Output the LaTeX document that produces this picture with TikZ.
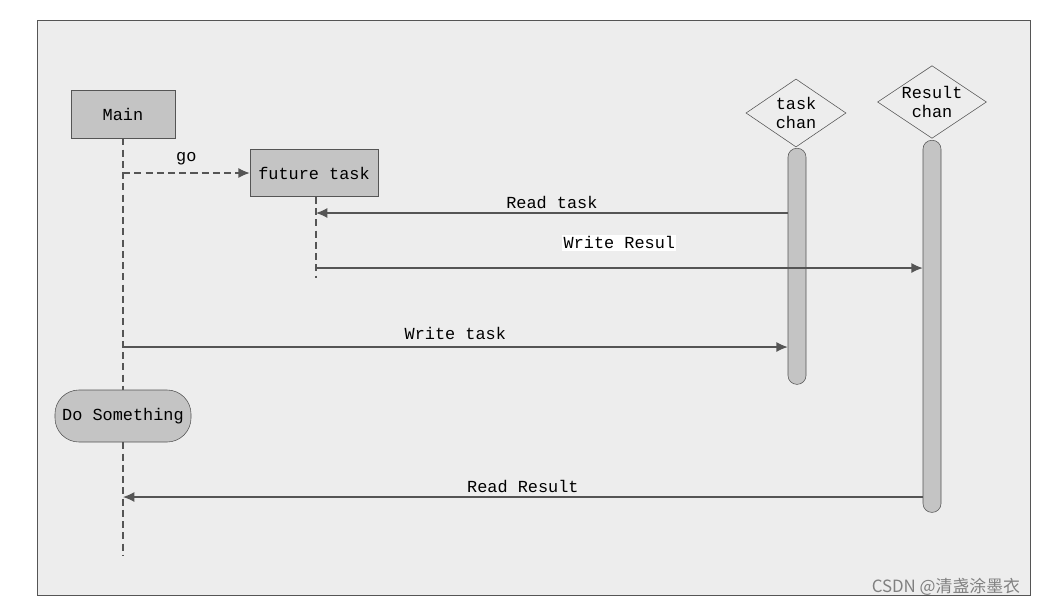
\documentclass[tikz,border=0pt]{standalone}
\usepackage{fontspec}
\setmainfont{Liberation Mono}
\newfontfamily\cjk{Noto Sans CJK SC}
\usetikzlibrary{arrows.meta,shapes.geometric}
\definecolor{paper}{HTML}{EDEDED}
\definecolor{boxgray}{HTML}{C4C4C4}
\definecolor{ink}{HTML}{555555}
\tikzset{
  box/.style={draw=ink,fill=boxgray,minimum width=2.6cm,minimum height=1.2cm,font=\rmfamily\large},
  chan/.style={diamond,draw=ink,fill=paper,aspect=1.5,minimum width=2.5cm,minimum height=1.7cm,align=center,inner sep=0pt,font=\rmfamily\large},
  bar/.style={draw=ink,fill=boxgray,rounded corners=0.22cm,minimum width=0.45cm},
  life/.style={draw=ink,dash pattern=on 5pt off 3pt,thick},
  msg/.style={draw=ink,thick,-{Latex[length=8pt,width=7pt]}},
  lbl/.style={font=\rmfamily\large,fill=paper,inner sep=1pt}
}
\begin{document}
\begin{tikzpicture}[x=0.025cm,y=-0.025cm]
  \useasboundingbox (0,0) rectangle (1039,607);
  \fill[white] (0,0) rectangle (1039,607);
  \draw[ink,fill=paper] (37,20) rectangle (1030,595);
  % participants
  \node[box,minimum width=2.6cm] (main) at (123,114) {Main};
  \node[box,minimum width=3.2cm,minimum height=1.18cm] (future) at (314,173) {future task};
  \node[chan] (tchan) at (796,113) {task\\chan};
  \node[chan] (rchan) at (932,102) {Result\\chan};
  \node[bar,minimum height=5.9cm,anchor=north] (tbar) at (797,148) {};
  \node[bar,minimum height=9.3cm,anchor=north] (rbar) at (932,140) {};
  \node[draw=ink,fill=boxgray,rounded corners=0.6cm,minimum width=3.4cm,minimum height=1.3cm,font=\rmfamily\large] (dosth) at (123,416) {Do Something};
  % lifelines
  \coordinate (mainend) at (123,555);
  \coordinate (futend) at (316,278);
  \draw[life] (main.south) -- (dosth.north);
  \draw[life] (dosth.south) -- (mainend);
  \draw[life] (future.south -| futend) -- (futend);
  % messages
  \draw[msg,dash pattern=on 5pt off 3pt] (main.south |- future.west) -- node[lbl,above=4pt,pos=0.5] {go} (future.west);
  \draw[msg] (tbar.west |- 0,213) -- node[lbl,above=2pt] {Read task} (316,213);
  \draw[msg] (316,268) -- node[lbl,fill=white,above=12pt,pos=0.5] {Write Resul} (rbar.west |- 0,268);
  \draw[msg] (123,347) -- node[lbl,above=4pt,pos=0.5] {Write task} (tbar.west |- 0,347);
  \draw[msg] (rbar.west |- 0,497) -- node[lbl,above=2pt] {Read Result} (123,497);
  \node[font=\cjk\large,text=gray,anchor=east] (mark) at (1025,587) {CSDN @清盏涂墨衣};
\end{tikzpicture}
\end{document}
